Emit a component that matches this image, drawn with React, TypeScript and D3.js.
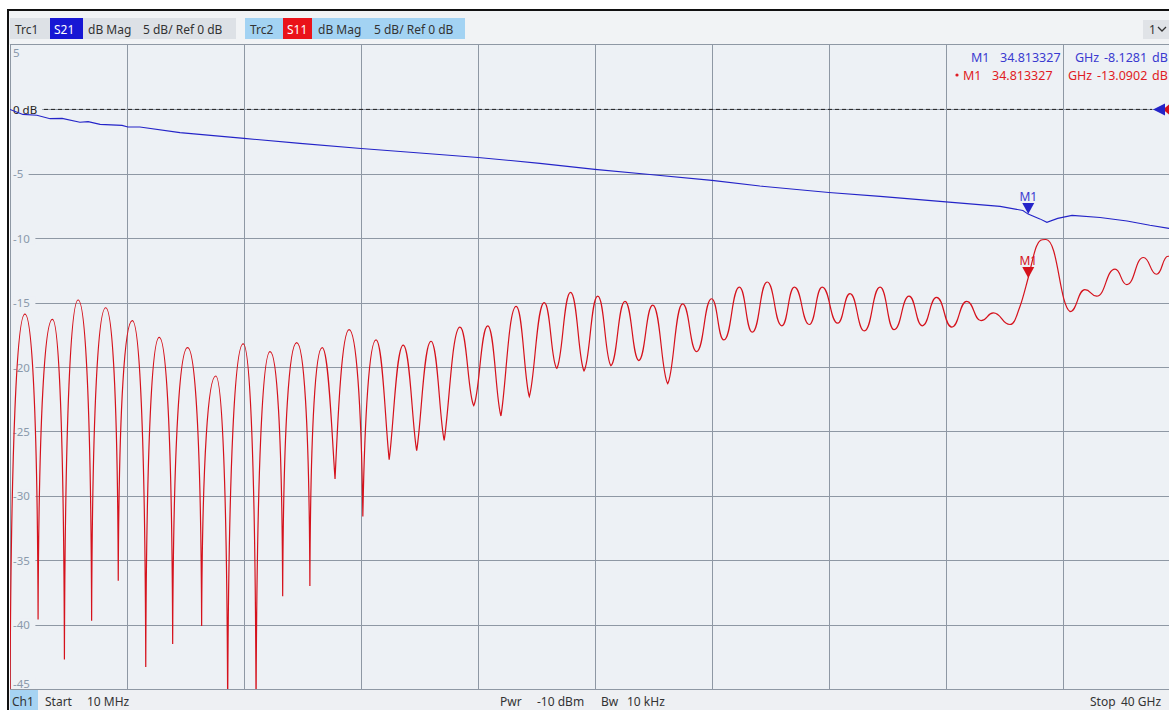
import * as d3 from "d3"

// S21 (blue) readings, [GHz, dB]
const s21Points: [number, number][] = [
  [0.01, 0], [0.45, -0.39], [0.93, -0.45], [1.38, -0.72], [1.79, -0.7], [2.4, -1.0],
  [2.68, -0.95], [3.09, -1.16], [3.84, -1.24], [4.04, -1.37], [4.45, -1.37], [5.82, -1.8],
  [8.01, -2.25], [9.92, -2.64], [12.01, -3.03], [14.02, -3.38], [16.01, -3.73], [18.12, -4.19],
  [20.0, -4.66], [21.88, -5.05], [24.0, -5.51], [25.64, -5.95], [28.0, -6.45], [29.75, -6.75],
  [32.0, -7.18], [33.85, -7.53], [34.63, -7.85], [34.81, -8.13], [35.21, -8.5], [35.45, -8.77],
  [35.82, -8.46], [36.31, -8.23], [37.27, -8.39], [38.19, -8.67], [38.97, -9.0], [39.62, -9.24],
  [40.0, -9.3],
]

// S11 (red) readings: peaks, nulls and a few points on the slopes, [GHz, dB]
const s11Points: [number, number][] = [
  [0.01, -47], [0.52, -15.9], [0.97, -39.6], [1.46, -16.3], [1.87, -42.7], [2.34, -14.8],
  [2.8, -39.7], [3.28, -15.4], [3.71, -36.6], [4.19, -16.4], [4.65, -43.3], [5.11, -17.7],
  [5.57, -41.5], [6.08, -18.5], [6.56, -40.1], [7.04, -20.7], [7.45, -47], [7.98, -18.2],
  [8.42, -47], [8.9, -18.8], [9.33, -37.8], [9.81, -18.1], [10.26, -37.0], [10.68, -18.5],
  [11.12, -28.7], [11.6, -17.1], [12.07, -31.6], [12.52, -17.9], [12.97, -27.2], [13.45, -18.3],
  [13.91, -26.5], [14.4, -18.0], [14.85, -25.7], [15.39, -16.9], [15.86, -23.0], [16.34, -16.8],
  [16.79, -23.8], [17.31, -15.3], [17.76, -22.3], [18.27, -15.0], [18.7, -20.1], [19.17, -14.2],
  [19.63, -20.3], [20.1, -14.5], [20.55, -19.9], [21.03, -14.9], [21.5, -19.5], [21.98, -15.2],
  [22.49, -21.3], [23.0, -15.1], [23.48, -18.8], [23.99, -14.7], [24.41, -17.9], [24.94, -13.8],
  [25.38, -17.3], [25.89, -13.4], [26.39, -16.8], [26.82, -13.8], [27.33, -16.7], [27.77, -13.8],
  [28.3, -16.6], [28.72, -14.3], [29.21, -17.2], [29.75, -13.8], [30.23, -17.1], [30.74, -14.5],
  [31.19, -16.8], [31.68, -14.6], [32.2, -16.9], [32.71, -14.9], [33.2, -16.4], [33.62, -15.8],
  [34.19, -16.7], [34.53, -15.3], [34.81, -13.09], [35.1, -10.6], [35.42, -10.1], [36.24, -15.7],
  [36.75, -14.0], [37.15, -14.5], [37.78, -12.4], [38.18, -13.6], [38.75, -11.5], [39.2, -12.8],
  [39.59, -11.4], [40.0, -11.6],
]

const yLabels = [5, 0, -5, -10, -15, -20, -25, -30, -35, -40, -45]
const xGrid = d3.range(1, 10).map((i) => 0.01 + i * 3.999)

const markerFreq = 34.813327
const markerS21 = -8.1281
const markerS11 = -13.0902

const W = 1169
const H = 710
const FONT = "'Noto Sans', 'Open Sans', sans-serif"
const PLOT_BG = "#edf1f5"
const GRID = "#8e98a4"
const BLUE = "#2424c8"
const RED = "#d5121c"

const x = d3.scaleLinear().domain([0.01, 40]).range([10, 1180])
const y = d3.scaleLinear().domain([5, -45]).range([45, 689])

// cubic segments: peaks get a flat tangent, nulls a steep one (sharper when deeper),
// points on a slope the finite-difference slope
function nullPath(pts: [number, number][]) {
  const n = pts.length
  const px = pts.map((d) => x(d[0]))
  const py = pts.map((d) => y(d[1]))
  const kind = pts.map((d, i) => {
    const prev = i > 0 ? pts[i - 1][1] : null
    const next = i < n - 1 ? pts[i + 1][1] : null
    const hi = (prev === null || d[1] > prev) && (next === null || d[1] > next)
    const lo = (prev === null || d[1] < prev) && (next === null || d[1] < next)
    return hi ? "peak" : lo ? "null" : "slope"
  })
  const slope = (i: number) => (py[i + 1] - py[i - 1]) / (px[i + 1] - px[i - 1])

  // handle leaving point i toward point j
  const handle = (i: number, j: number): [number, number] => {
    const dx = px[j] - px[i]
    const dy = py[j] - py[i]
    if (kind[i] === "peak") return [px[i] + 0.5 * dx, py[i]]
    if (kind[i] === "slope") return [px[i] + dx / 3, py[i] + (slope(i) * dx) / 3]
    const depth = Math.abs(pts[i][1] - pts[j][1])
    const s = Math.max(0, Math.min(1, (depth - 4) / 12))
    return [px[i] + (0.5 - 0.45 * s) * dx, py[i] + 0.7 * s * dy]
  }

  const p = d3.path()
  p.moveTo(px[0], py[0])
  for (let i = 1; i < n; i++) {
    const [c1x, c1y] = handle(i - 1, i)
    const [c2x, c2y] = handle(i, i - 1)
    p.bezierCurveTo(c1x, c1y, c2x, c2y, px[i], py[i])
  }
  return p.toString()
}

function Tri({ cx, tip, color }: { cx: number; tip: number; color: string }) {
  return <path d={`M${cx - 6},${tip - 11}L${cx + 6},${tip - 11}L${cx},${tip}Z`} fill={color} />
}

export default function App() {
  const s21Line = d3.line<[number, number]>().x((d) => x(d[0])).y((d) => y(d[1]))(s21Points) || ""
  const s11Line = nullPath(s11Points)
  const mx = x(markerFreq)

  const txt = { fontFamily: FONT, fontSize: 12, dominantBaseline: "central" as const }

  return (
    <svg width={W} height={H} style={{ position: "fixed", left: 0, top: 0, background: "#fff" }}>
      <defs>
        <clipPath id="plot-clip">
          <rect x={10} y={45} width={W - 10} height={644} />
        </clipPath>
      </defs>

      {/* frame + header */}
      <rect x={9} y={11} width={W} height={34} fill="#f1f3f5" />
      <rect x={7} y={9} width={W} height={2} fill="#111" />
      <rect x={7} y={9} width={2} height={H} fill="#111" />

      <rect x={10} y={18} width={226} height={21} fill="#dde1e6" />
      <rect x={50} y={18} width={33} height={21} fill="#1717d4" />
      <rect x={245} y={18} width={220} height={21} fill="#a3d3f3" />
      <rect x={283} y={18} width={29} height={21} fill="#ea1219" />
      <g {...txt} fill="#333">
        <text x={15} y={29}>Trc1</text>
        <text x={54} y={29} fill="#fff">S21</text>
        <text x={88} y={29}>dB Mag</text>
        <text x={143} y={29}>5 dB/ Ref 0 dB</text>
        <text x={250} y={29}>Trc2</text>
        <text x={287} y={29} fill="#fff">S11</text>
        <text x={318} y={29}>dB Mag</text>
        <text x={374} y={29}>5 dB/ Ref 0 dB</text>
      </g>
      <rect x={1143} y={20} width={30} height={19} fill="#e0e3e7" />
      <text {...txt} x={1149} y={29} fill="#333">1</text>
      <path d="M1158,27L1162,31L1166,27" fill="none" stroke="#333" strokeWidth={1.3} />

      {/* plot area */}
      <rect x={10} y={45} width={W - 10} height={644} fill={PLOT_BG} />
      <g stroke={GRID} strokeWidth={1}>
        {xGrid.map((f) => (
          <line key={f} x1={Math.round(x(f)) + 0.5} x2={Math.round(x(f)) + 0.5} y1={45} y2={689} />
        ))}
        {yLabels.slice(1, -1).map((v) => (
          <line key={v} x1={10} x2={W} y1={Math.round(y(v)) + 0.5} y2={Math.round(y(v)) + 0.5} />
        ))}
        <line x1={10} x2={W} y1={44.5} y2={44.5} />
        <line x1={10.5} x2={10.5} y1={45} y2={689} />
        <line x1={10} x2={W} y1={689.5} y2={689.5} />
      </g>

      {/* y labels */}
      {yLabels.map((v) => {
        const yy = v === 5 ? y(v) + 7 : v === -45 ? y(v) - 6 : y(v)
        const label = v === 0 ? "0 dB" : String(v)
        return (
          <g key={v}>
            <rect x={11} y={yy - 6} width={label.length * 6.8 + 4} height={12} fill={PLOT_BG} />
            <text {...txt} fontSize={11.5} x={13} y={yy} fill={v === 0 ? "#222" : "#8a99ab"}>
              {label}
            </text>
          </g>
        )
      })}

      {/* reference line */}
      <line x1={44} x2={1152} y1={y(0)} y2={y(0)} stroke="#222" strokeDasharray="4,3" strokeWidth={1} />
      <path d={`M1169,${y(0) - 5}L1169,${y(0) + 5}L1163,${y(0)}Z`} fill={RED} />
      <path d={`M1165,${y(0) - 6}L1165,${y(0) + 6}L1153,${y(0)}Z`} fill={BLUE} />

      {/* traces */}
      <g clipPath="url(#plot-clip)" fill="none">
        <path d={s21Line} stroke={BLUE} strokeWidth={1.1} />
        <path d={s11Line} stroke={RED} strokeWidth={1.2} />
      </g>

      {/* markers */}
      <Tri cx={mx} tip={y(markerS21)} color={BLUE} />
      <text {...txt} x={mx} y={y(markerS21) - 18} textAnchor="middle" fill="#3a3ad0">M1</text>
      <Tri cx={mx} tip={y(markerS11)} color={RED} />
      <text {...txt} x={mx} y={y(markerS11) - 18} textAnchor="middle" fill={RED}>M1</text>

      {/* marker readout */}
      <g {...txt} fontSize={12.5} fill="#3a3ad0">
        <text x={971} y={57}>M1</text>
        <text x={1000} y={57}>34.813327</text>
        <text x={1075} y={57}>GHz</text>
        <text x={1104} y={57}>-8.1281</text>
        <text x={1152} y={57}>dB</text>
      </g>
      <g {...txt} fontSize={12.5} fill="#e01c24">
        <circle cx={957} cy={75} r={1.6} />
        <text x={963} y={75}>M1</text>
        <text x={992} y={75}>34.813327</text>
        <text x={1068} y={75}>GHz</text>
        <text x={1097} y={75}>-13.0902</text>
        <text x={1152} y={75}>dB</text>
      </g>

      {/* bottom bar */}
      <rect x={9} y={690} width={W} height={20} fill="#eef0f3" />
      <rect x={10} y={690} width={28} height={20} fill="#a6d3f2" />
      <g {...txt} fill="#333">
        <text x={12} y={701}>Ch1</text>
        <text x={45} y={701}>Start</text>
        <text x={87} y={701}>10 MHz</text>
        <text x={500} y={701}>Pwr</text>
        <text x={537} y={701}>-10 dBm</text>
        <text x={601} y={701}>Bw</text>
        <text x={627} y={701}>10 kHz</text>
        <text x={1090} y={701}>Stop</text>
        <text x={1121} y={701}>40 GHz</text>
      </g>
    </svg>
  )
}
